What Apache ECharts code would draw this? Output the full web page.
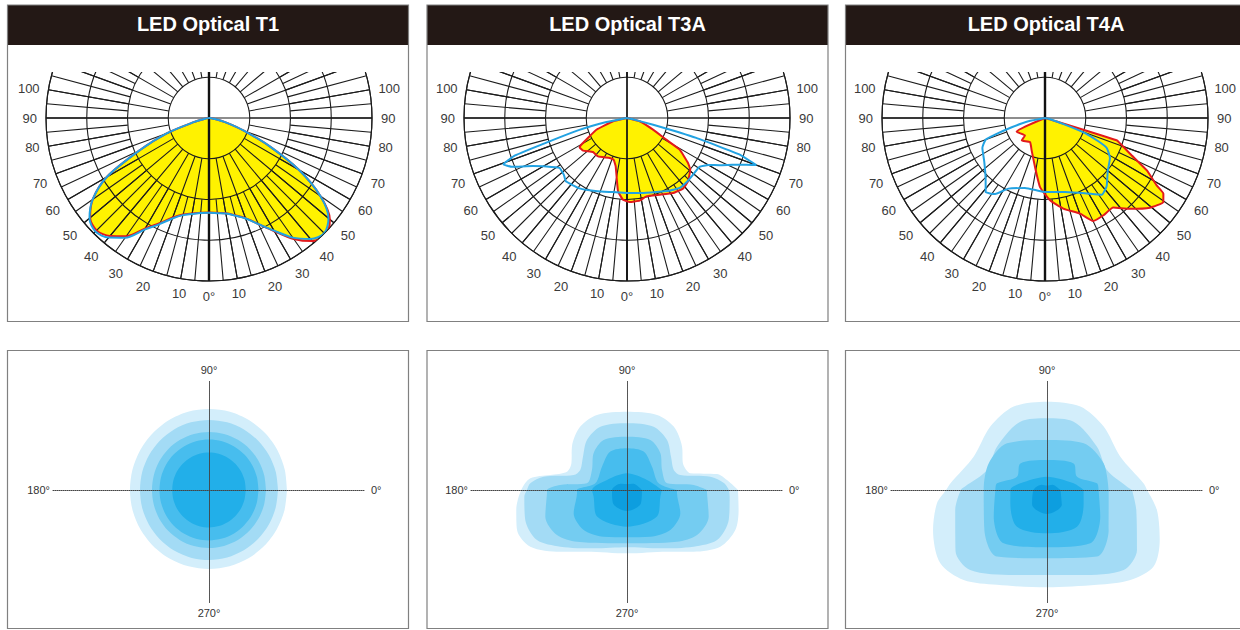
<!DOCTYPE html>
<html>
<head>
<meta charset="utf-8">
<script src="https://cdn.jsdelivr.net/npm/echarts/dist/echarts.min.js"></script>
<style>
html,body{margin:0;padding:0;background:#ffffff;}
#chart{width:1240px;height:630px;}
</style>
</head>
<body>
<div id="chart"></div>
<script>
// ================= DATA =================
const panelTitles = ['LED Optical T1', 'LED Optical T3A', 'LED Optical T4A'];
// angle tick labels of the polar intensity diagrams (every 10 degrees)
const angleTickLabels = ['0°', '10', '20', '30', '40', '50', '60', '70', '80', '90', '100'];
// direction labels of the isolux diagrams
const isoDirLabels = ['0°', '90°', '180°', '270°'];

// ---- Polar intensity curves (gamma: negative = left, positive = right; value: % of outer ring)
const t1Angles = [-90,-85,-80,-75,-70,-65,-60,-55,-50,-45,-40,-35,-30,-25,-20,-15,-10,-5,0,5,10,15,20,25,30,35,40,45,50,55,60,65,70,75,80,85,90];
const t1Blue = [0,0,2.5,9.2,27.6,46.9,72.4,87.1,95.7,98.5,95.7,89.6,79.1,71.8,65.6,61.7,59.8,58.5,58.1,58.6,59.5,62.0,65.6,71.8,79.8,89.6,96.9,100,95.7,83.4,63.8,41.1,22.7,11.0,3.7,0.6,0];
const t1Red  = [0,0,2.5,9.2,27.6,46.9,72.4,87.1,95.2,97.5,94.5,88.5,78.2,71.0,65.0,61.3,59.5,58.3,58.0,58.4,59.3,61.8,65.4,71.8,80.2,90.6,98.6,101.5,96.8,83.4,63.8,41.1,22.7,11.0,3.7,0.6,0];

const t3aBlueAngles = [-90,-81,-79,-76,-73,-71.5,-69.5,-67,-63,-59,-53.5,-48,-44,-34,-22,-11,0,11,21.6,30,37,44,49,56,60,63,66,68.6,70,72,74,75.6,78,90];
const t3aBlueValues = [0,1.8,12.9,30.1,52.1,72.4,81.0,76.7,65.0,57.7,51.5,52.1,54.0,52.1,48.5,46.3,46.0,46.9,48.8,51.5,53.7,53.7,53.4,53.6,57.7,63.8,70.6,78.5,84.4,72.7,44.2,16.6,3.1,0];
const t3aRedAngles = [-90,-76.7,-69,-64,-59.7,-58.2,-53.4,-45,-37,-23.4,-17.7,-13.2,-7,-2.8,1.8,8.7,13.8,23.1,31.5,38.4,43.9,50.8,53.6,59,61.1,65.8,75.4,85,90];
const t3aRedValues = [0,8.8,20.1,25.5,32.5,34.2,33.6,29.5,29.5,26.7,26.9,30.4,45.3,50.2,51.5,51.3,49.5,51.2,54.0,55.3,54.0,50.1,46.5,37.7,27.5,17.5,8.0,0,0];

const t4aBlueAngles = [-90,-78.8,-74.4,-71.5,-69.9,-64.4,-54.5,-44.7,-38.7,-33.3,-27.4,-16,-5.3,0,15.1,28,36.5,42.1,49.6,58.4,64.1,66.4,69.4,71.5,75.7,90];
const t4aBlueValues = [0,10.4,21.2,32.3,38.8,42.6,45.8,51.8,58.2,55.8,48.8,44.7,44.8,45.4,47.1,52.3,58.5,56.4,50.5,46.8,42.1,35.7,26.2,12.9,4.2,0];
const t4aRedAngles = [-90,-64,-49,-46,-32,-22.4,-11.5,-4.1,3.5,11.4,20.1,25.1,31,37.3,43.1,49.5,54.6,57.4,58.9,62.8,67.2,71,72.7,74,90];
const t4aRedValues = [0,19.4,16.3,19.8,17.4,21.5,30.7,42.5,50.6,56.7,62.5,69.8,69.6,69.1,76.3,84.7,89.0,86.2,80.0,70.1,56.6,49.1,46.0,3.1,0];

// ---- Isolux contours (angle: 0 = right, 90 = up; value: distance units)
const t1IsoAngles = [0,15,30,45,60,75,90,105,120,135,150,165,180,195,210,225,240,255,270,285,300,315,330,345,360];
const t1Iso1 = [52,52.3,52.8,53.3,53.7,54,54,54,53.7,53.3,53,52.8,52.7,52.7,52.7,52.7,52.7,52.7,52.7,52.7,52.6,52.4,52.2,52.1,52];
const t1Iso2 = [46,46.1,46.2,46.4,46.6,46.7,46.7,46.7,46.6,46.4,46.2,46.1,46,46.1,46.2,46.4,46.6,46.7,46.7,46.6,46.4,46.2,46.1,46,46];
const t1Iso3 = [38,38.1,38.3,38.5,38.6,38.7,38.7,38.7,38.6,38.5,38.3,38.1,38,38.1,38.3,38.5,38.6,38.7,38.7,38.6,38.5,38.3,38.1,38,38];
const t1Iso4 = [33,33.1,33.2,33.4,33.5,33.6,33.6,33.6,33.5,33.4,33.2,33.1,33,33.1,33.2,33.4,33.5,33.6,33.6,33.5,33.4,33.2,33.1,33,33];
const t1Iso5 = [24.5,24.6,24.7,24.8,24.9,25,25,25,24.9,24.8,24.7,24.6,24.5,24.6,24.7,24.8,24.9,25,25,24.9,24.8,24.7,24.6,24.5,24.5];

const t3aIso1Angles = [0,5.7,10.1,14.7,18.6,25.5,38.2,53.6,68.2,90,111.8,126.4,141.8,154.4,163,168.9,173.1,180,190.2,200,210.4,222.8,237,270,303,317.2,328.7,339.7,349.8,360];
const t3aIso1Values = [74,67,60.9,43.7,41.7,41.3,46.7,52.5,53.9,52.2,53.9,52.5,46.7,41.1,41.8,52.1,64.9,70.5,75,78,74.7,60.5,49,42.2,49,60.5,72.8,77,75.6,74];
const t3aIso2Angles = [0,4,9.1,15.7,23.2,37.1,51.3,67.2,90,112.8,128.7,142.9,156.8,164.3,170.9,176,180,183.7,196.4,209.1,220.4,240.3,270,299.7,319.6,330.9,343.6,356.3,360];
const t3aIso2Values = [68,65,56.3,36.9,33.9,36.8,42.7,45.8,44.5,45.8,42.7,36.8,33.9,36.9,56.3,64.6,66.7,68.6,70.7,68.7,58.3,44.8,38.2,44.8,58.3,68.7,70.7,68.6,68];
const t3aIso3Angles = [0,4.3,9.5,29.7,47.7,65,90,115,132.3,150.3,170.5,175.7,180,182.4,198.1,212.7,226,270,314,327.3,341.9,357.6,360];
const t3aIso3Values = [53.3,44.6,27.1,26.9,33.1,36.8,35.5,36.8,33.1,26.9,27.1,44.6,53.3,53.4,57.3,55.5,47.9,35.5,47.9,55.5,57.3,53.4,53.3];
const t3aIso4Angles = [0,11.9,43,66.5,90,113.5,137,168.1,180,183.8,203.6,222.7,243.4,270,296.6,317.3,336.4,356.2,360];
const t3aIso4Values = [33.3,21.6,22.8,27.9,27.8,27.9,22.8,21.6,33.3,33.4,38.8,39.3,34.8,31.5,34.8,39.3,38.8,33.4,33.3];
const t3aIso5Angles = [0,26.6,90,153.4,180,191.3,221.6,270,318.4,348.7,360];
const t3aIso5Values = [23.3,14.9,11.1,14.9,23.3,22.7,26.7,24.5,26.7,22.7,23.3];
const t3aIso6Angles = [0,45,90,135,180,225,270,315,360];
const t3aIso6Values = [10,6,4,6,10,13,14,13,10];

const t4aIso1Angles = [0,3.9,24.4,48.2,68.2,90,111.8,131.8,155.6,176.1,180,186.9,199.3,214.5,227.2,242.2,270,297.8,312.8,324.3,336.1,349.7,360];
const t4aIso1Values = [66.7,64.6,53.7,56.7,59.9,58.9,59.9,56.7,53.7,64.6,67.3,73.9,80.5,86.3,81.8,71.5,64.9,71.5,81.8,87.5,82.2,74.5,66.7];
const t4aIso2Angles = [0,2.4,18.4,40.9,68.7,90,111.3,139.1,161.6,177.6,180,192.6,213.7,226.2,248.6,270,291.4,313.8,326.3,347.4,360];
const t4aIso2Values = [56.7,53.4,42.1,44.1,48.9,47.8,48.9,44.1,42.1,54.7,57.5,62.7,73.3,74,60.9,56.7,60.9,73.9,72.1,61,56.7];
const t4aIso3Angles = [0,25.2,51.8,90,130.6,155.4,180,212.5,233.1,270,306.9,327,360];
const t4aIso3Values = [41.1,41.7,39.6,33.3,41,42.7,42.2,49.5,55.5,45.5,55.5,49,41.1];
const t4aIso4Angles = [0,7.6,24,45,90,135,156,172.4,180,206.6,230.9,270,309.1,333.4,360];
const t4aIso4Values = [34.4,33.6,21.9,25.1,20,25.1,21.9,33.6,34.4,39.7,45.8,38.2,45.8,39.7,34.4];
const t4aIso5Angles = [0,14,90,166,180,200,230.7,270,309.3,340,360];
const t4aIso5Values = [24.4,18.3,8.9,18.3,24.4,26,31.6,28.9,31.6,26,24.4];
const t4aIso6Angles = [0,45,90,135,180,225,270,315,360];
const t4aIso6Values = [9,5,3,5,9,14,16,14,9];

// ================= LAYOUT / STYLE =================
const FONT = "'Liberation Sans', Arial, Helvetica, sans-serif";
const panelX = [7.5, 427, 845.5];
const panelW = 401;
const topCenters = [[209, 118], [627, 118], [1045, 118]];
const topR = 163;
const botCenters = [[209, 490], [627, 490], [1047, 490]];
const botR = 150; // radius axis 0..100
const isoColors = ['#d3eefb', '#a3dbf5', '#74ccf1', '#47bdee', '#22afe9', '#0d9edf'];
const gridColor = '#1c1c1c';
const vertWidth = [2.4, 1.4, 2.4];
const NP = 4; // polar systems per top panel

function pairs(angles, values) { return angles.map((a, i) => [values[i], a]); }

const polar = [], angleAxis = [], radiusAxis = [], series = [];
const hiddenRadius = (idx) => ({ polarIndex: idx, type: 'value', min: 0, max: 100, show: false });
const angleBase = { type: 'value', min: -180, max: 180, startAngle: 90, clockwise: false, z: 3,
  axisTick: { show: false } };

topCenters.forEach((c, i) => {
  const b = NP * i;
  // p0: data, rings, cross through the centre
  polar.push({ center: c, radius: [0, topR] });
  angleAxis.push(Object.assign({}, angleBase, {
    polarIndex: b, interval: 90,
    axisLine: { show: true, lineStyle: { color: gridColor, width: 1.1 } },
    axisLabel: { show: false },
    splitLine: { show: true, lineStyle: { color: gridColor, width: 1.1 } }
  }));
  radiusAxis.push({
    polarIndex: b, type: 'value', min: 0, max: 100, interval: 25, z: 3,
    axisLine: { show: false }, axisTick: { show: false }, axisLabel: { show: false },
    splitLine: { show: true, lineStyle: { color: gridColor, width: 1.1 } }
  });
  // p1: 10-degree radial lines from the inner ring, with labels
  polar.push({ center: c, radius: [topR / 4, topR] });
  angleAxis.push(Object.assign({}, angleBase, {
    polarIndex: b + 1, interval: 10,
    axisLine: { show: false },
    axisLabel: {
      show: true, margin: 9, color: '#3a3a3a', fontSize: 13, fontFamily: FONT,
      formatter: function (v) {
        const a = Math.round(Math.abs(v));
        if (a % 10 !== 0 || a > 100) return '';
        return angleTickLabels[a / 10];
      }
    },
    splitLine: { show: true, lineStyle: { color: gridColor, width: 1.1 } }
  }));
  radiusAxis.push(hiddenRadius(b + 1));
  // p2: 5-degree radial lines from the second ring
  polar.push({ center: c, radius: [topR / 2, topR] });
  angleAxis.push(Object.assign({}, angleBase, {
    polarIndex: b + 2, interval: 5,
    axisLine: { show: false }, axisLabel: { show: false },
    splitLine: { show: true, lineStyle: { color: gridColor, width: 1.1 } }
  }));
  radiusAxis.push(hiddenRadius(b + 2));
  // p3: heavy vertical line
  polar.push({ center: c, radius: [0, topR] });
  angleAxis.push(Object.assign({}, angleBase, {
    polarIndex: b + 3, interval: 180,
    axisLine: { show: false }, axisLabel: { show: false },
    splitLine: { show: true, lineStyle: { color: '#111', width: vertWidth[i] } }
  }));
  radiusAxis.push(hiddenRadius(b + 3));
});

const BOT0 = NP * 3;
botCenters.forEach((c, i) => {
  polar.push({ center: c, radius: [0, botR] });
  angleAxis.push({ polarIndex: BOT0 + i, type: 'value', min: 0, max: 360, startAngle: 0, clockwise: false, show: false });
  radiusAxis.push(hiddenRadius(BOT0 + i));
});

// top curves
const topSets = [
  { red: pairs(t1Angles, t1Red), blue: pairs(t1Angles, t1Blue), smooth: 0.3 },
  { red: pairs(t3aRedAngles, t3aRedValues), blue: pairs(t3aBlueAngles, t3aBlueValues), smooth: 0.1 },
  { red: pairs(t4aRedAngles, t4aRedValues), blue: pairs(t4aBlueAngles, t4aBlueValues), smooth: 0.15 }
];
topSets.forEach((s, i) => {
  const base = { type: 'line', coordinateSystem: 'polar', polarIndex: NP * i, symbol: 'none',
    smooth: s.smooth, silent: true, clip: false, animation: false };
  series.push(Object.assign({}, base, { data: s.red, z: 1,
    lineStyle: { width: 0, opacity: 0 }, areaStyle: { color: '#fff200', opacity: 1 } }));
  series.push(Object.assign({}, base, { data: s.red, z: 4,
    lineStyle: { color: '#e3191c', width: 2 } }));
  series.push(Object.assign({}, base, { data: s.blue, z: 5,
    lineStyle: { color: '#22a2e2', width: 2 } }));
});

// isolux contours
const isoSets = [
  [[t1IsoAngles, t1Iso1], [t1IsoAngles, t1Iso2], [t1IsoAngles, t1Iso3], [t1IsoAngles, t1Iso4], [t1IsoAngles, t1Iso5]],
  [[t3aIso1Angles, t3aIso1Values], [t3aIso2Angles, t3aIso2Values], [t3aIso3Angles, t3aIso3Values],
   [t3aIso4Angles, t3aIso4Values], [t3aIso5Angles, t3aIso5Values], [t3aIso6Angles, t3aIso6Values]],
  [[t4aIso1Angles, t4aIso1Values], [t4aIso2Angles, t4aIso2Values], [t4aIso3Angles, t4aIso3Values],
   [t4aIso4Angles, t4aIso4Values], [t4aIso5Angles, t4aIso5Values], [t4aIso6Angles, t4aIso6Values]]
];
isoSets.forEach((levels, i) => {
  levels.forEach((lv, k) => {
    series.push({
      type: 'line', coordinateSystem: 'polar', polarIndex: BOT0 + i, symbol: 'none',
      smooth: 0.3, silent: true, clip: false, animation: false, z: 2,
      data: pairs(lv[0], lv[1]),
      lineStyle: { width: 0, opacity: 0 },
      areaStyle: { color: isoColors[k], opacity: 1 }
    });
  });
});

// cartesian crosses for the isolux diagrams (two x and two y axes per grid so each end carries a name)
const grid = [], xAxis = [], yAxis = [];
const XMAX = 104, YMIN = -75, YMAX = 73, UNIT = botR / 100;
const dirText = { color: '#333', fontSize: 11, fontFamily: FONT };
const dotted = { type: 'dotted', color: '#444', width: 1 };
botCenters.forEach((c, i) => {
  grid.push({ left: c[0] - XMAX * UNIT, top: c[1] - YMAX * UNIT, width: 2 * XMAX * UNIT,
    height: (YMAX - YMIN) * UNIT, containLabel: false, outerBoundsMode: 'none' });
  const common = { gridIndex: i, type: 'value', z: 6, axisTick: { show: false },
    splitLine: { show: false }, axisLabel: { show: false } };
  xAxis.push(Object.assign({}, common, {
    min: -XMAX, max: XMAX, position: 'bottom',
    axisLine: { show: true, onZero: true, onZeroAxisIndex: 2 * i, lineStyle: dotted },
    name: isoDirLabels[0], nameLocation: 'end', nameGap: 6, nameTextStyle: dirText
  }));
  xAxis.push(Object.assign({}, common, {
    min: -XMAX, max: XMAX, inverse: true, position: 'top',
    axisLine: { show: false, onZero: true, onZeroAxisIndex: 2 * i },
    name: isoDirLabels[2], nameLocation: 'end', nameGap: 3, nameTextStyle: dirText
  }));
  yAxis.push(Object.assign({}, common, {
    min: YMIN, max: YMAX, position: 'left',
    axisLine: { show: true, onZero: true, onZeroAxisIndex: 2 * i, lineStyle: dotted },
    name: isoDirLabels[1], nameLocation: 'end', nameGap: 5, nameTextStyle: dirText
  }));
  yAxis.push(Object.assign({}, common, {
    min: YMIN, max: YMAX, inverse: true, position: 'right',
    axisLine: { show: false, onZero: true, onZeroAxisIndex: 2 * i },
    name: isoDirLabels[3], nameLocation: 'end', nameGap: 5, nameTextStyle: dirText
  }));
});

// decorations: panel frames, title bars, top clip
const graphics = [{ type: 'rect', shape: { x: 0, y: 0, width: 1240, height: 72 }, style: { fill: '#ffffff' }, z: 100, silent: true }];
panelX.forEach((x) => {
  graphics.push({ type: 'rect', shape: { x: x, y: 5, width: panelW, height: 40 }, style: { fill: '#231815' }, z: 101, silent: true });
  graphics.push({ type: 'rect', shape: { x: x, y: 5, width: panelW, height: 316.5 }, style: { fill: 'none', stroke: '#808080', lineWidth: 1.2 }, z: 102, silent: true });
  graphics.push({ type: 'rect', shape: { x: x, y: 350.5, width: panelW, height: 278 }, style: { fill: 'none', stroke: '#808080', lineWidth: 1.2 }, z: 102, silent: true });
});

const titles = panelTitles.map((t, i) => ({
  text: t, left: panelX[i] + panelW / 2, top: 14, padding: 0, textAlign: 'center', z: 110,
  textStyle: { color: '#ffffff', fontSize: 20, fontWeight: 'bold', fontFamily: FONT }
}));

const chart = echarts.init(document.getElementById('chart'), null, { renderer: 'svg', width: 1240, height: 630 });
chart.setOption({
  backgroundColor: '#ffffff',
  animation: false,
  title: titles,
  polar: polar,
  angleAxis: angleAxis,
  radiusAxis: radiusAxis,
  grid: grid,
  xAxis: xAxis,
  yAxis: yAxis,
  series: series,
  graphic: { elements: graphics }
});
</script>
</body>
</html>
